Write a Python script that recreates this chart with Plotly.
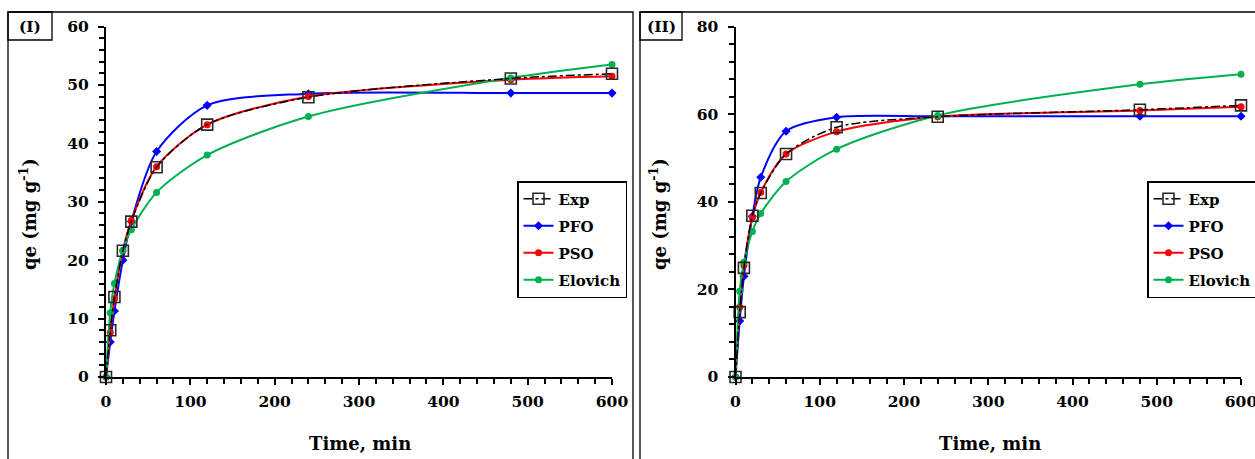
import plotly.graph_objects as go

W, H = 1255, 459

# ---------------- data ----------------
time_min = [0, 5, 10, 20, 30, 60, 120, 240, 480, 600]

# Panel (I)
exp_1 = [0, 8.0, 13.7, 21.6, 26.6, 35.9, 43.2, 47.9, 51.1, 51.9]
pfo_1 = [0, 6.0, 11.3, 20.0, 26.6, 38.6, 46.5, 48.5, 48.6, 48.6]
pso_1 = [0, 7.6, 13.4, 21.6, 26.8, 36.0, 43.2, 48.0, 50.9, 51.5]
elo_1 = [0, 11.0, 16.0, 21.7, 25.2, 31.6, 38.0, 44.6, 51.2, 53.5]

# Panel (II)
exp_2 = [0, 14.8, 24.9, 36.8, 42.0, 50.9, 57.0, 59.4, 61.0, 62.0]
pfo_2 = [0, 12.8, 23.0, 36.7, 45.6, 56.1, 59.3, 59.5, 59.5, 59.5]
pso_2 = [0, 16.0, 25.5, 36.4, 42.1, 50.9, 56.0, 59.4, 60.8, 61.7]
elo_2 = [0, 19.6, 26.2, 33.2, 37.3, 44.6, 52.0, 59.7, 66.8, 69.1]

series_names = ["Exp", "PFO", "PSO", "Elovich"]
panel_labels = ["(I)", "(II)"]
x_title = "Time, min"
y_title = "qe (mg g<sup>-1</sup>)"

# ---------------- helpers ----------------
def px(x):
    return x / W

def py(y):
    return 1 - y / H

FONT = "DejaVu Serif"
BLUE = "rgb(0,0,255)"
RED = "rgb(255,0,0)"
GREEN = "rgb(0,176,80)"

fig = go.Figure()

def add_panel(exp, pfo, pso, elo, xa, ya, leg):
    common = dict(x=time_min, xaxis=xa, yaxis=ya, legend=leg, cliponaxis=False,
                  mode="lines+markers")
    fig.add_trace(go.Scatter(y=pfo, name=series_names[1], legendrank=2,
                             legendgroup=leg + "pfo",
                             line=dict(color=BLUE, width=2, shape="spline", smoothing=0.8),
                             marker=dict(symbol="diamond", size=7, color=BLUE), **common))
    fig.add_trace(go.Scatter(y=pso, name=series_names[2], legendrank=3,
                             legendgroup=leg + "pso",
                             line=dict(color=RED, width=2, shape="spline", smoothing=0.8),
                             marker=dict(symbol="circle", size=7, color=RED), **common))
    fig.add_trace(go.Scatter(y=elo, name=series_names[3], legendrank=4,
                             legendgroup=leg + "elo",
                             line=dict(color=GREEN, width=2, shape="spline", smoothing=0.8),
                             marker=dict(symbol="circle", size=7, color=GREEN), **common))
    fig.add_trace(go.Scatter(y=exp, name=series_names[0], legendrank=1,
                             legendgroup=leg + "exp",
                             line=dict(color="black", width=1.5, dash="dashdot",
                                       shape="spline", smoothing=0.8),
                             marker=dict(symbol="square", size=11, color="rgba(0,0,0,0)",
                                         line=dict(color="rgb(40,40,40)", width=1.6)),
                             **common))

add_panel(exp_1, pfo_1, pso_1, elo_1, "x", "y", "legend")
add_panel(exp_2, pfo_2, pso_2, elo_2, "x2", "y2", "legend2")

tickfont = dict(family=FONT, size=15.5, color="black", weight="bold")

def xaxis_def(x0, x1):
    return dict(domain=[px(x0), px(x1)], range=[0, 600], dtick=100, tick0=0,
                showline=True, linecolor="black", linewidth=2, showgrid=False,
                zeroline=False, ticks="outside", ticklen=6, tickwidth=1.5,
                tickcolor="black", tickfont=tickfont, ticklabelstandoff=3,
                automargin=False, ticklabeloverflow="allow",
                minor=dict(dtick=20, ticks="outside", ticklen=5, tickwidth=1.5,
                           tickcolor="black", showgrid=False))

def yaxis_def(ymax, major, minor, anchor):
    return dict(domain=[py(377), py(26.5)], range=[0, ymax], dtick=major, tick0=0,
                anchor=anchor, showline=True, linecolor="black", linewidth=2,
                showgrid=False, zeroline=False, ticks="outside", ticklen=6,
                tickwidth=1.5, tickcolor="black", tickfont=tickfont,
                ticklabelstandoff=6, automargin=False, ticklabeloverflow="allow",
                minor=dict(dtick=minor, ticks="outside", ticklen=5, tickwidth=1.5,
                           tickcolor="black", showgrid=False))

legend_common = dict(bgcolor="white", bordercolor="black", borderwidth=1.5,
                     font=dict(family=FONT, size=15, color="black", weight="bold"),
                     xanchor="left", yanchor="top", itemwidth=30,
                     xref="container", yref="container",
                     traceorder="grouped", tracegroupgap=4.5)

shapes = [
    # panel frames
    dict(type="rect", xref="paper", yref="paper", x0=px(8), x1=px(633),
         y0=py(480), y1=py(12), line=dict(color="black", width=1.3)),
    dict(type="rect", xref="paper", yref="paper", x0=px(640), x1=px(1290),
         y0=py(480), y1=py(12), line=dict(color="black", width=1.3)),
    # panel label boxes
    dict(type="rect", xref="paper", yref="paper", x0=px(8), x1=px(52),
         y0=py(40), y1=py(12), line=dict(color="black", width=1.3)),
    dict(type="rect", xref="paper", yref="paper", x0=px(640), x1=px(682),
         y0=py(40), y1=py(12), line=dict(color="black", width=1.3)),
]

title_font = dict(family=FONT, size=18, color="black", weight="bold")
label_font = dict(family=FONT, size=15.5, color="black", weight="bold")

def ann(text, x, y, font, angle=0):
    return dict(text=text, x=px(x), y=py(y), xref="paper", yref="paper",
                xanchor="center", yanchor="middle", showarrow=False,
                textangle=angle, font=font)

annotations = [
    ann(panel_labels[0], 30, 26.5, label_font),
    ann(panel_labels[1], 661, 26.5, label_font),
    ann(x_title, 360, 443, title_font),
    ann(x_title, 990, 443, title_font),
    ann(y_title, 28, 214, title_font, -90),
    ann(y_title, 658, 214, title_font, -90),
]

fig.update_layout(
    width=W, height=H, autosize=False,
    margin=dict(l=0, r=0, t=0, b=0, pad=0, autoexpand=False),
    paper_bgcolor="white", plot_bgcolor="white",
    xaxis=xaxis_def(106, 612),
    yaxis=yaxis_def(60, 10, 2, "x"),
    xaxis2=dict(xaxis_def(735.5, 1241), anchor="y2"),
    yaxis2=yaxis_def(80, 20, 4, "x2"),
    legend=dict(legend_common, x=px(517), y=py(181)),
    legend2=dict(legend_common, x=px(1147), y=py(181)),
    shapes=shapes,
    annotations=annotations,
    showlegend=True,
)

fig.write_html(
    "out.html",
    config={"displayModeBar": False},
    post_script="document.body.style.margin='0px';document.body.style.overflow='hidden';",
)
